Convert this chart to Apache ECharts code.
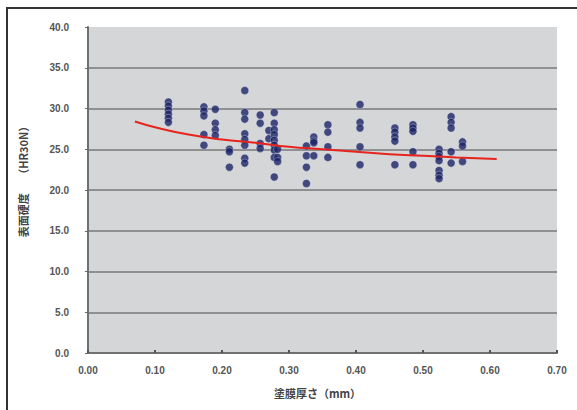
<!DOCTYPE html>
<html>
<head>
<meta charset="utf-8">
<script src="https://cdn.jsdelivr.net/npm/echarts@6/dist/echarts.min.js"></script>
<style>
html,body{margin:0;padding:0;background:#fff;}
#c{width:577px;height:410px;}
</style>
</head>
<body>
<div id="c"></div>
<script>
// coating thickness (mm) and surface hardness (HR30N) pairs
const thickness = [
  0.120,0.120,0.120,0.120,0.120,0.120,
  0.173,0.173,0.173,0.173,0.173,
  0.190,0.190,0.190,0.190,
  0.211,0.211,0.211,
  0.234,0.234,0.234,0.234,0.234,0.234,0.234,0.234,
  0.257,0.257,0.257,0.257,
  0.270,0.270,
  0.278,0.278,0.278,0.278,0.278,0.278,0.278,0.278,0.278,
  0.283,0.283,0.283,
  0.326,0.326,0.326,0.326,
  0.337,0.337,0.337,0.337,
  0.358,0.358,0.358,0.358,
  0.406,0.406,0.406,0.406,0.406,
  0.458,0.458,0.458,0.458,0.458,
  0.485,0.485,0.485,0.485,0.485,
  0.524,0.524,0.524,0.524,0.524,0.524,0.524,
  0.542,0.542,0.542,0.542,0.542,
  0.559,0.559,0.559
];
const hardness = [
  30.8,30.3,29.8,29.3,28.8,28.3,
  30.2,29.7,29.1,26.8,25.5,
  29.9,28.2,27.4,26.7,
  25.0,24.7,22.8,
  32.2,29.5,28.7,26.9,26.2,25.5,23.9,23.3,
  29.2,28.2,25.7,25.1,
  27.3,26.3,
  29.5,28.2,27.4,26.8,26.1,25.5,24.9,24.0,21.6,
  24.0,23.5,25.0,
  25.4,24.2,22.8,20.8,
  26.5,26.0,25.8,24.2,
  28.0,27.1,25.3,24.0,
  30.5,28.3,27.6,25.3,23.1,
  27.6,27.1,26.5,26.0,23.1,
  28.0,27.6,27.2,24.7,23.1,
  25.0,24.5,24.1,23.6,22.4,21.8,21.4,
  29.0,28.3,27.6,24.7,23.3,
  25.9,25.4,23.5
];
// trend curve
const trendX = [0.07,0.10,0.15,0.20,0.25,0.30,0.35,0.40,0.45,0.50,0.55,0.61];
const trendY = [28.4,27.7,26.8,26.2,25.8,25.3,25.0,24.7,24.4,24.2,24.0,23.8];

const xTitle = '塗膜厚さ（mm）';
const yTitle = '表面硬度　 （HR30N）';

const points = thickness.map((x,i)=>[x,hardness[i]]);
const trend = trendX.map((x,i)=>[x,trendY[i]]);

const chart = echarts.init(document.getElementById('c'), null, {renderer:'svg'});
const labelStyle = {color:'#555', fontSize:10, fontWeight:'bold', fontFamily:'Liberation Sans, Arial, sans-serif'};
chart.setOption({
  animation:false,
  backgroundColor:'#fff',
  grid:{left:88, right:20, top:27, bottom:57, show:true, backgroundColor:'#d4d6d8', borderWidth:0},
  graphic:[{
    type:'rect', shape:{x:7,y:8,width:600,height:430},
    style:{fill:'none', stroke:'#333', lineWidth:2}, z:-1
  }],
  xAxis:{
    type:'value', min:0, max:0.7, interval:0.1,
    name:xTitle, nameLocation:'middle', nameGap:34,
    nameTextStyle:{color:'#444', fontSize:11, fontFamily:'Noto Sans CJK JP', fontWeight:'bold', padding:[0,10,0,0]},
    axisLine:{show:true, lineStyle:{color:'#6e7072', width:2}},
    axisTick:{show:true, inside:true, length:3, lineStyle:{color:'#555', width:2}},
    axisLabel:Object.assign({margin:12, formatter:v=>v.toFixed(2)}, labelStyle),
    splitLine:{show:false}
  },
  yAxis:{
    type:'value', min:0, max:40, interval:5,
    name:yTitle, nameLocation:'middle', nameGap:60,
    nameTextStyle:{color:'#444', fontSize:11, fontFamily:'Noto Sans CJK JP', fontWeight:'bold', padding:[0,0,0,22]},
    axisLine:{show:true, lineStyle:{color:'#6e7072', width:2}},
    axisTick:{show:true, length:3, lineStyle:{color:'#666', width:1}},
    axisLabel:Object.assign({margin:19, formatter:v=>v.toFixed(1)}, labelStyle),
    splitLine:{show:true, showMaxLine:false, lineStyle:{color:'#8e9092', width:2}}
  },
  series:[
    {
      type:'scatter', data:points, symbolSize:8,
      itemStyle:{color:'#1b2466', borderColor:'rgba(235,238,248,0.5)', borderWidth:0.8}
    },
    {
      type:'line', data:trend, smooth:true, showSymbol:false,
      lineStyle:{color:'#e8241e', width:2}, z:3
    }
  ]
});
</script>
</body>
</html>
